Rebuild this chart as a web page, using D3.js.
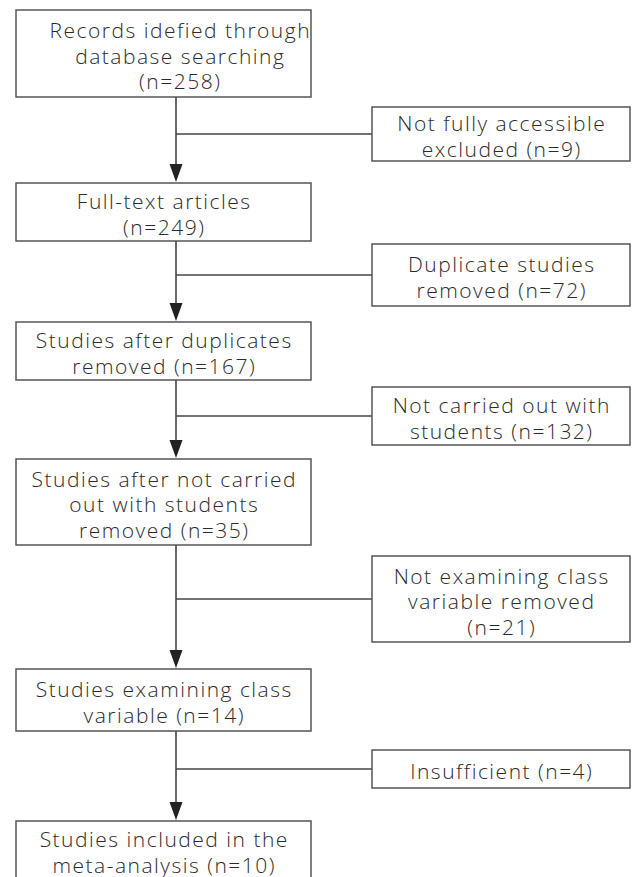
<!DOCTYPE html>
<html>
<head>
<meta charset="utf-8">
<script src="https://cdn.jsdelivr.net/npm/d3@7"></script>
<style>
  body { margin: 0; background: #fff; }
  svg { display: block; }
  text { font-family: "Open Sans", sans-serif; font-weight: 300; fill: #2b2b2b; letter-spacing: 1.5px; }
</style>
</head>
<body>
<div id="chart"></div>
<script>
// flow steps (main column) and exclusions (right column)
var mainSteps = [
  ["Records idefied through", "database searching", "(n=258)"],
  ["Full-text articles", "(n=249)"],
  ["Studies after duplicates", "removed (n=167)"],
  ["Studies after not carried", "out with students", "removed (n=35)"],
  ["Studies examining class", "variable (n=14)"],
  ["Studies included in the", "meta-analysis (n=10)"]
];
var exclusions = [
  ["Not fully accessible", "excluded (n=9)"],
  ["Duplicate studies", "removed (n=72)"],
  ["Not carried out with", "students (n=132)"],
  ["Not examining class", "variable removed", "(n=21)"],
  ["Insufficient (n=4)"]
];

var width = 635, height = 877;
var lineH = 25.5, fontSize = 21;
var stroke = "#444";

// box extents read from the layout
var mainBoxes = [[10, 97], [183, 241], [322, 380], [459, 545], [669, 731], [821, 879]];
var mainShift = [16, 0, 0, 0, 0, 0];
var exclBoxes = [[107, 161], [244, 306], [387, 445], [556, 642], [750, 788]];
var mainX = [16, 311], exclX = [372, 630];
var cx = 176;

var svg = d3.select("#chart").append("svg")
  .attr("width", width).attr("height", height);

function drawBox(lines, x0, x1, y0, y1, shift) {
  var g = svg.append("g");
  g.append("rect")
    .attr("x", x0).attr("y", y0)
    .attr("width", x1 - x0).attr("height", y1 - y0)
    .attr("fill", "#fff").attr("stroke", "#555").attr("stroke-width", 1.5);
  var mid = (y0 + y1) / 2;
  g.selectAll("text").data(lines).enter().append("text")
    .attr("x", (x0 + x1) / 2 + 0.75 + (shift || 0))
    .attr("y", function (d, i) { return mid + (i - (lines.length - 1) / 2) * lineH + 10; })
    .attr("text-anchor", "middle")
    .attr("font-size", fontSize)
    .text(function (d) { return d; });
}

// connectors
for (var i = 0; i < mainBoxes.length - 1; i++) {
  var y0 = mainBoxes[i][1], y1 = mainBoxes[i + 1][0];
  var by = (exclBoxes[i][0] + exclBoxes[i][1]) / 2;
  svg.append("line")
    .attr("x1", cx).attr("y1", y0).attr("x2", cx).attr("y2", y1 - 16)
    .attr("stroke", stroke).attr("stroke-width", 1.6);
  svg.append("line")
    .attr("x1", cx).attr("y1", by).attr("x2", exclX[0]).attr("y2", by)
    .attr("stroke", stroke).attr("stroke-width", 1.6);
  svg.append("path")
    .attr("d", "M" + (cx - 6.5) + "," + (y1 - 19) + "L" + (cx + 6.5) + "," + (y1 - 19) + "L" + cx + "," + (y1 - 1) + "Z")
    .attr("fill", "#222");
}

mainSteps.forEach(function (lines, i) {
  drawBox(lines, mainX[0], mainX[1], mainBoxes[i][0], mainBoxes[i][1], mainShift[i]);
});
exclusions.forEach(function (lines, i) {
  drawBox(lines, exclX[0], exclX[1], exclBoxes[i][0], exclBoxes[i][1]);
});
</script>
</body>
</html>
